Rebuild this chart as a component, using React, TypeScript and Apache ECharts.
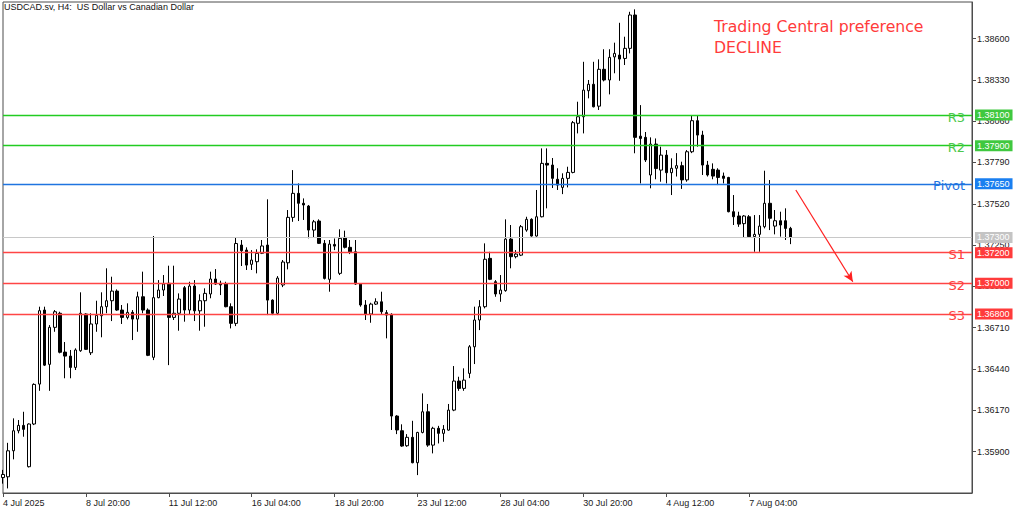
import React, { useEffect, useRef } from 'react';
import * as echarts from 'echarts';

// ---- data (H4 bars) ----
const opens = [
  1.3573, 1.35735, 1.35905, 1.36036, 1.36071, 1.35801, 1.3608, 1.36341, 1.36825, 1.3647,
  1.36712, 1.36804, 1.3655, 1.36524, 1.3645, 1.36559, 1.36799, 1.36546, 1.36734, 1.36788,
  1.36847, 1.36886, 1.36949, 1.36825, 1.36777, 1.3681, 1.36766, 1.36912, 1.36825, 1.36516,
  1.36906, 1.36956, 1.37, 1.36777, 1.36804, 1.36971, 1.36825, 1.36982, 1.3682, 1.36886,
  1.3693, 1.37028, 1.37, 1.36995, 1.36847, 1.36738, 1.3725, 1.37217, 1.37124, 1.37141,
  1.37196, 1.3725, 1.3689, 1.36804, 1.36989, 1.37134, 1.37431, 1.37588, 1.37523, 1.37505,
  1.37348, 1.37407, 1.37261, 1.37026, 1.37254, 1.37065, 1.373, 1.37235, 1.37206, 1.36995,
  1.36858, 1.36799, 1.36864, 1.36879, 1.36808, 1.36797, 1.36132, 1.36036, 1.35938, 1.35993,
  1.35827, 1.36025, 1.3616, 1.35942, 1.36052, 1.36019, 1.3604, 1.36171, 1.36361, 1.36313,
  1.36411, 1.36585, 1.3676, 1.36847, 1.37163, 1.3701, 1.3693, 1.36952, 1.37289, 1.37174,
  1.37184, 1.37348, 1.37418, 1.37309, 1.37435, 1.37784, 1.37773, 1.3768, 1.37627, 1.37686,
  1.37725, 1.38046, 1.38089, 1.38259, 1.38301, 1.38158, 1.38399, 1.38329, 1.3848, 1.38492,
  1.3847, 1.38536, 1.38754, 1.37962, 1.37954, 1.37708, 1.3791, 1.3774, 1.37838, 1.37723,
  1.37752, 1.37769, 1.37676, 1.3786, 1.38063, 1.37969, 1.37773, 1.37745, 1.3774, 1.37701,
  1.37692, 1.37468, 1.3744, 1.3739, 1.37435, 1.37305, 1.3732, 1.3737, 1.37523, 1.37374,
  1.37409, 1.37409, 1.37359,
];
const highs = [
  1.3578, 1.35957, 1.36117, 1.36106, 1.3616, 1.36084, 1.36346, 1.36847, 1.36847, 1.36727,
  1.36825, 1.36814, 1.36616, 1.36564, 1.36575, 1.36941, 1.36804, 1.36804, 1.36886, 1.36941,
  1.37098, 1.37043, 1.3696, 1.36858, 1.36869, 1.36825, 1.36945, 1.37076, 1.36836, 1.37309,
  1.37021, 1.37054, 1.37115, 1.37115, 1.36934, 1.36982, 1.3701, 1.37021, 1.36928, 1.36967,
  1.37076, 1.37093, 1.37017, 1.3701, 1.36869, 1.373, 1.37283, 1.37235, 1.37217, 1.37222,
  1.37283, 1.37549, 1.36895, 1.37047, 1.37152, 1.37479, 1.3774, 1.37653, 1.37555, 1.37512,
  1.37414, 1.37418, 1.37283, 1.37283, 1.37293, 1.37353, 1.37344, 1.37283, 1.37283, 1.37,
  1.3689, 1.36873, 1.36902, 1.36945, 1.36825, 1.36804, 1.36138, 1.36078, 1.36014, 1.36101,
  1.36029, 1.3628, 1.36211, 1.36062, 1.36068, 1.36073, 1.36211, 1.36459, 1.36389, 1.36444,
  1.36596, 1.36847, 1.3689, 1.37261, 1.37206, 1.37021, 1.37054, 1.37418, 1.37381, 1.37217,
  1.37381, 1.37435, 1.37425, 1.3761, 1.37882, 1.37882, 1.37819, 1.37752, 1.37719, 1.37762,
  1.38061, 1.38187, 1.38448, 1.38329, 1.38448, 1.38464, 1.3853, 1.3853, 1.38573, 1.38703,
  1.38612, 1.38775, 1.38791, 1.38165, 1.37989, 1.37954, 1.37947, 1.37893, 1.37871, 1.37817,
  1.37851, 1.37795, 1.37871, 1.381, 1.381, 1.37997, 1.378, 1.37784, 1.37752, 1.37724,
  1.37696, 1.37577, 1.37468, 1.37446, 1.37446, 1.37446, 1.37446, 1.37736, 1.37675, 1.37479,
  1.37468, 1.3749, 1.37369,
];
const lows = [
  1.3569, 1.35659, 1.35849, 1.36019, 1.35997, 1.35796, 1.36073, 1.36297, 1.36459, 1.36297,
  1.36683, 1.36542, 1.36379, 1.36379, 1.36433, 1.36552, 1.36564, 1.36531, 1.36683, 1.36647,
  1.36804, 1.36753, 1.3682, 1.36734, 1.36764, 1.36629, 1.36683, 1.36804, 1.36524, 1.36498,
  1.36902, 1.36917, 1.36465, 1.3676, 1.3669, 1.36749, 1.36799, 1.36753, 1.3669, 1.36716,
  1.36902, 1.36989, 1.36923, 1.36843, 1.36705, 1.3672, 1.37113, 1.37087, 1.37087, 1.37065,
  1.37191, 1.36792, 1.36792, 1.36792, 1.36975, 1.37091, 1.37402, 1.37407, 1.37414, 1.37294,
  1.373, 1.37257, 1.37025, 1.36945, 1.37217, 1.37054, 1.37228, 1.37191, 1.36989, 1.36847,
  1.3676, 1.36742, 1.36858, 1.36799, 1.3664, 1.36041, 1.36014, 1.35931, 1.35931, 1.35823,
  1.35746, 1.36019, 1.35931, 1.35888, 1.35953, 1.35964, 1.36036, 1.36164, 1.36297, 1.36297,
  1.3638, 1.36472, 1.36694, 1.36836, 1.37021, 1.36912, 1.36879, 1.36945, 1.37098, 1.37163,
  1.37178, 1.37337, 1.37305, 1.37305, 1.37431, 1.3749, 1.37623, 1.3761, 1.37583, 1.37627,
  1.37719, 1.3798, 1.3798, 1.38209, 1.3815, 1.38133, 1.3832, 1.38235, 1.38373, 1.38324,
  1.38427, 1.38503, 1.3785, 1.37653, 1.37793, 1.37621, 1.3768, 1.37664, 1.37653, 1.37577,
  1.37698, 1.37617, 1.37664, 1.37851, 1.37893, 1.37708, 1.37698, 1.3768, 1.37642, 1.37653,
  1.37464, 1.37381, 1.37369, 1.373, 1.373, 1.37206, 1.37206, 1.37359, 1.37348, 1.3732,
  1.37305, 1.37283, 1.37256,
];
const closes = [
  1.3575, 1.35905, 1.36036, 1.36071, 1.36045, 1.3608, 1.36339, 1.36821, 1.36465, 1.36712,
  1.36814, 1.36549, 1.36524, 1.3645, 1.36564, 1.36804, 1.36568, 1.36734, 1.3679, 1.36847,
  1.36886, 1.36949, 1.36825, 1.36777, 1.3681, 1.36766, 1.36912, 1.36825, 1.36529, 1.36906,
  1.36956, 1.36995, 1.36777, 1.36804, 1.36897, 1.36825, 1.36982, 1.3682, 1.36886, 1.36934,
  1.37028, 1.36995, 1.36989, 1.36847, 1.36738, 1.3726, 1.37213, 1.37119, 1.37152, 1.37196,
  1.37244, 1.3689, 1.36804, 1.37034, 1.37139, 1.37431, 1.37588, 1.37523, 1.37512, 1.37348,
  1.37402, 1.37261, 1.37032, 1.37256, 1.37243, 1.37294, 1.37235, 1.37206, 1.36995, 1.36858,
  1.36799, 1.36864, 1.36879, 1.36814, 1.36792, 1.36132, 1.36041, 1.35936, 1.35993, 1.35827,
  1.36025, 1.3616, 1.35942, 1.36052, 1.36019, 1.36045, 1.36171, 1.36361, 1.36313, 1.36367,
  1.36585, 1.3676, 1.36847, 1.37157, 1.37026, 1.3693, 1.36956, 1.37289, 1.37174, 1.37191,
  1.3737, 1.37418, 1.37309, 1.37435, 1.37784, 1.37773, 1.37686, 1.37642, 1.37686, 1.37725,
  1.3805, 1.38089, 1.38263, 1.38301, 1.38154, 1.38399, 1.38329, 1.38477, 1.38503, 1.38466,
  1.38536, 1.38754, 1.37954, 1.37947, 1.37806, 1.3791, 1.3775, 1.37838, 1.37723, 1.37752,
  1.37769, 1.37676, 1.3786, 1.38063, 1.37969, 1.37773, 1.37708, 1.37701, 1.37692, 1.37686,
  1.37468, 1.37435, 1.37387, 1.3744, 1.37305, 1.3732, 1.37374, 1.37523, 1.37425, 1.37409,
  1.37381, 1.37359, 1.373,
];

const yTickValues = [1.359, 1.3617, 1.3644, 1.3671, 1.3698, 1.3725, 1.3752, 1.3779, 1.3806, 1.3833, 1.386];

const levelNames = ['R3', 'R2', 'Pivot', 'S1', 'S2', 'S3'];
const levelValues = [1.381, 1.379, 1.3765, 1.372, 1.37, 1.368];
const levelLineColors = ['#22cc22', '#22cc22', '#1f74e0', '#ff4545', '#ff4545', '#ff4545'];
const levelTextColors = ['#4cc84c', '#4cc84c', '#1f74e0', '#ff4040', '#ff4040', '#ff4040'];
const levelBoxColors = ['#3fc83f', '#3fc83f', '#1a7ff0', '#ff3b3b', '#ff3b3b', '#ff3b3b'];
const currentPrice = 1.373;

// arrow (category index, price)
const arrowStart = [153, 1.3761];
const arrowEnd = [164, 1.3701];

const titleText = 'USDCAD.sv, H4:  US Dollar vs Canadian Dollar';
const noteLines = ['Trading Central preference', 'DECLINE'];

const BAR_SLOTS = 188;
const LABEL_EVERY = 16;
const MONTHS = ['Jan', 'Feb', 'Mar', 'Apr', 'May', 'Jun', 'Jul', 'Aug', 'Sep', 'Oct', 'Nov', 'Dec'];

function buildCategories(n: number): string[] {
  const out: string[] = [];
  let t = Date.UTC(2025, 6, 4, 4);
  while (out.length < n) {
    const d = new Date(t);
    const wd = d.getUTCDay();
    if (wd !== 0 && wd !== 6) {
      const day = d.getUTCDate();
      const mon = MONTHS[d.getUTCMonth()];
      const hh = String(d.getUTCHours()).padStart(2, '0');
      out.push(out.length === 0 ? `${day} ${mon} ${d.getUTCFullYear()}` : `${day} ${mon} ${hh}:00`);
    }
    t += 4 * 3600 * 1000;
  }
  return out;
}

export default function App() {
  const ref = useRef<HTMLDivElement>(null);
  useEffect(() => {
    if (!ref.current) return;
    const chart = echarts.init(ref.current, undefined, { renderer: 'svg' });
    const categories = buildCategories(BAR_SLOTS);
    const data = opens.map((o, i) => [o, closes[i], lows[i], highs[i]]);
    const showLabel = (i: number) => i % LABEL_EVERY === 0 && i < opens.length;

    const boxLabel = (text: string, bg: string) => ({
      show: true,
      position: 'end',
      formatter: text,
      color: '#ffffff',
      backgroundColor: bg,
      padding: [1, 3, 0, 2],
      lineHeight: 10,
      fontSize: 9,
      fontFamily: 'Liberation Sans',
      distance: [3, 0],
    });

    const lineMarks: any[] = [];
    const boxMarks: any[] = [];
    levelValues.forEach((v, i) => {
      lineMarks.push({
        yAxis: v,
        lineStyle: { color: levelLineColors[i], width: 1.3, type: 'solid', opacity: 1 },
        label: {
          show: true,
          position: 'insideEndTop',
          formatter: levelNames[i],
          color: levelTextColors[i],
          fontSize: 13,
          fontFamily: 'DejaVu Sans',
          distance: [7, -2],
          verticalAlign: 'middle',
        },
      });
      boxMarks.push({
        yAxis: v,
        lineStyle: { color: levelLineColors[i], width: 0, type: 'solid' },
        label: boxLabel(v.toFixed(5), levelBoxColors[i]),
      });
    });
    lineMarks.push({
      yAxis: currentPrice,
      lineStyle: { color: '#c8c8c8', width: 1, type: 'solid' },
      label: boxLabel(currentPrice.toFixed(5), '#c4c4c4'),
    });
    lineMarks.push([
      { coord: arrowStart, symbol: 'none', lineStyle: { color: '#ff2020', width: 1.2 } },
      { coord: arrowEnd, symbol: 'arrow', symbolSize: [7, 10] },
    ]);

    const option: any = {
      animation: false,
      backgroundColor: '#ffffff',
      grid: {
        left: 2,
        right: 52,
        top: 2,
        bottom: 19,
        show: true,
        borderColor: '#4d4d4d',
        borderWidth: 1,
        backgroundColor: 'transparent',
      },
      xAxis: {
        type: 'category',
        data: categories,
        boundaryGap: false,
        axisLine: { show: true, lineStyle: { color: '#4d4d4d', width: 1 } },
        axisTick: {
          show: true,
          interval: showLabel,
          length: 4,
          lineStyle: { color: '#4d4d4d' },
        },
        axisLabel: {
          interval: showLabel,
          align: 'left',
          margin: 5,
          fontSize: 9,
          fontFamily: 'Liberation Sans',
          color: '#1a1a1a',
        },
        splitLine: { show: false },
      },
      yAxis: {
        type: 'value',
        position: 'right',
        min: 1.35629,
        max: 1.38839,
        axisLine: { show: true, lineStyle: { color: '#4d4d4d', width: 1 } },
        axisTick: { show: true, customValues: yTickValues, length: 4, lineStyle: { color: '#4d4d4d' } },
        axisLabel: {
          customValues: yTickValues,
          formatter: (v: number) => v.toFixed(5),
          fontSize: 9,
          margin: 5,
          fontFamily: 'Liberation Sans',
          color: '#1a1a1a',
        },
        splitLine: { show: false },
      },
      graphic: [
        {
          type: 'text',
          x: 4,
          y: 2,
          style: { text: titleText, font: '9px "Liberation Sans"', fill: '#111', textVerticalAlign: 'top' },
        },
        {
          type: 'text',
          x: 714,
          y: 26,
          style: { text: noteLines[0], font: '15.7px "DejaVu Sans"', fill: '#ff3b3b', textVerticalAlign: 'middle' },
        },
        {
          type: 'text',
          x: 714,
          y: 47,
          style: { text: noteLines[1], font: '15.7px "DejaVu Sans"', fill: '#ff3b3b', textVerticalAlign: 'middle' },
        },
      ],
      series: [
        {
          type: 'candlestick',
          data,
          barWidth: 3,
          itemStyle: {
            color: '#ffffff',
            color0: '#000000',
            borderColor: '#000000',
            borderColor0: '#000000',
            borderWidth: 1,
          },
          markLine: {
            silent: true,
            symbol: 'none',
            precision: 5,
            animation: false,
            data: lineMarks,
            lineStyle: { color: '#ff2020', width: 1.2, type: 'solid' },
          },
        },
        {
          type: 'line',
          data: [],
          silent: true,
          markLine: {
            silent: true,
            symbol: 'none',
            precision: 5,
            animation: false,
            data: boxMarks,
          },
        },
      ],
    };
    chart.setOption(option);
    return () => chart.dispose();
  }, []);

  return <div ref={ref} style={{ position: 'fixed', left: 0, top: 0, width: 1024, height: 512 }} />;
}
